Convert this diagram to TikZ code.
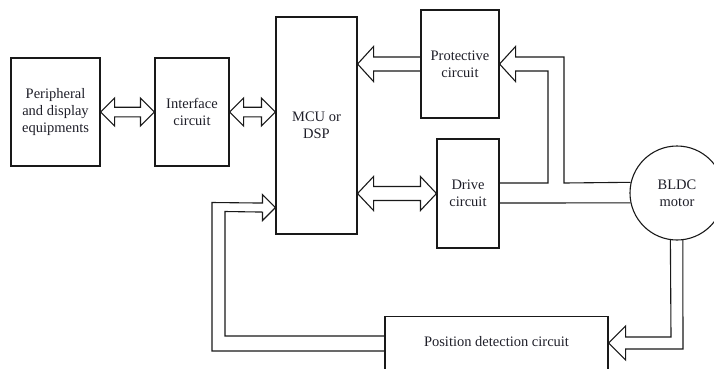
\documentclass[tikz,border=0pt]{standalone}
\usepackage{fontspec}
\setmainfont{Liberation Serif}
\usetikzlibrary{calc}
\definecolor{ink}{RGB}{30,30,40}
\definecolor{linec}{RGB}{25,25,25}
\newcommand{\hollowdbl}[5]{%
\draw[blk] (#1) -- ++(#3,-#4) -- ++(0,#4-#5) -- ($(#2)+(-#3,-#5)$) -- ++(0,#5-#4) -- (#2) -- ++(-#3,#4) -- ++(0,#5-#4) -- ($(#1)+(#3,#5)$) -- ++(0,#4-#5) -- cycle;}
\begin{document}
\begin{tikzpicture}[x=1pt,y=-1pt,
  box/.style={draw=linec, line width=1.1pt, inner sep=0pt, align=center, text=ink,
    font=\fontsize{14.5}{17}\selectfont},
  blk/.style={draw=linec, line width=1.1pt, line join=miter},
  lbl/.style={text=ink, align=center, font=\fontsize{14.5}{17}\selectfont}]
\useasboundingbox (0,0) rectangle (714,368);
\node[box, minimum width=89, minimum height=108] (p) at (55.5,112) {Peripheral\\and display\\equipments};
\node[box, minimum width=74, minimum height=108] (i) at (192,112) {Interface\\circuit};
\node[box, minimum width=81, minimum height=217] (m) at (316.5,125.5) {MCU or\\DSP};
\node[box, minimum width=78, minimum height=108] (pr) at (460,64) {Protective\\circuit};
\node[box, minimum width=62, minimum height=109] (d) at (468,193.5) {Drive\\circuit};
\node[box, circle, minimum size=94] (b) at (677,193) {BLDC\\motor};
\node[box, minimum width=223, minimum height=80, anchor=north] (pos) at (496.5,316) {};
\node[lbl] (post) at ($(pos.north)+(0,26)$) {Position detection circuit};
% double arrows
\hollowdbl{p.east}{i.west}{14}{14}{4.8}
\hollowdbl{i.east}{i.east -| m.west}{14}{14}{4.8}
\hollowdbl{m.east |- d.west}{d.west}{16}{17}{7}
% protective -> MCU
\coordinate (t1) at (m.east |- pr.west);
\draw[blk] ($(pr.west)+(0,-7)$) -- ($(t1)+(16,-7)$) -- ++(0,-10.5) -- (t1) -- ++(16,17.5) -- ++(0,-10.5) -- ($(pr.west)+(0,7)$);
% motor/drive -> protective
\draw[blk] (b.167.7) -- (564,183) -- (564,57) -- ($(pr.east)+(16,-7)$) -- ++(0,-10.5) -- (pr.east) -- ++(16,17.5) -- ++(0,-10.5) -- (548,71) -- (548,183) -- (d.east |- 0,183);
\draw[blk] (d.east |- 0,203) -- (b.192.3);
% position -> MCU feedback
\coordinate (t2) at ($(m.south west)+(0,-27)$);
\draw[blk] ($(pos.north west)+(0,35)$) -- (212,351) -- (212,202.5) -- ($(t2)+(-13,-4.5)$) -- ++(0,-8.5) -- (t2) -- ++(-13,13) -- ++(0,-8.5) -- (225,211.5) -- (225,336) -- ($(pos.north west)+(0,20)$);
% motor -> position
\coordinate (t3) at ($(pos.north east)+(0,27)$);
\draw[blk] (b.262.7) -- (671,337) -- ($(t3)+(17,-6)$) -- ++(0,-11) -- (t3) -- ++(17,17) -- ++(0,-11) -- (683,349) -- (b.277.3);
\end{tikzpicture}
\end{document}
